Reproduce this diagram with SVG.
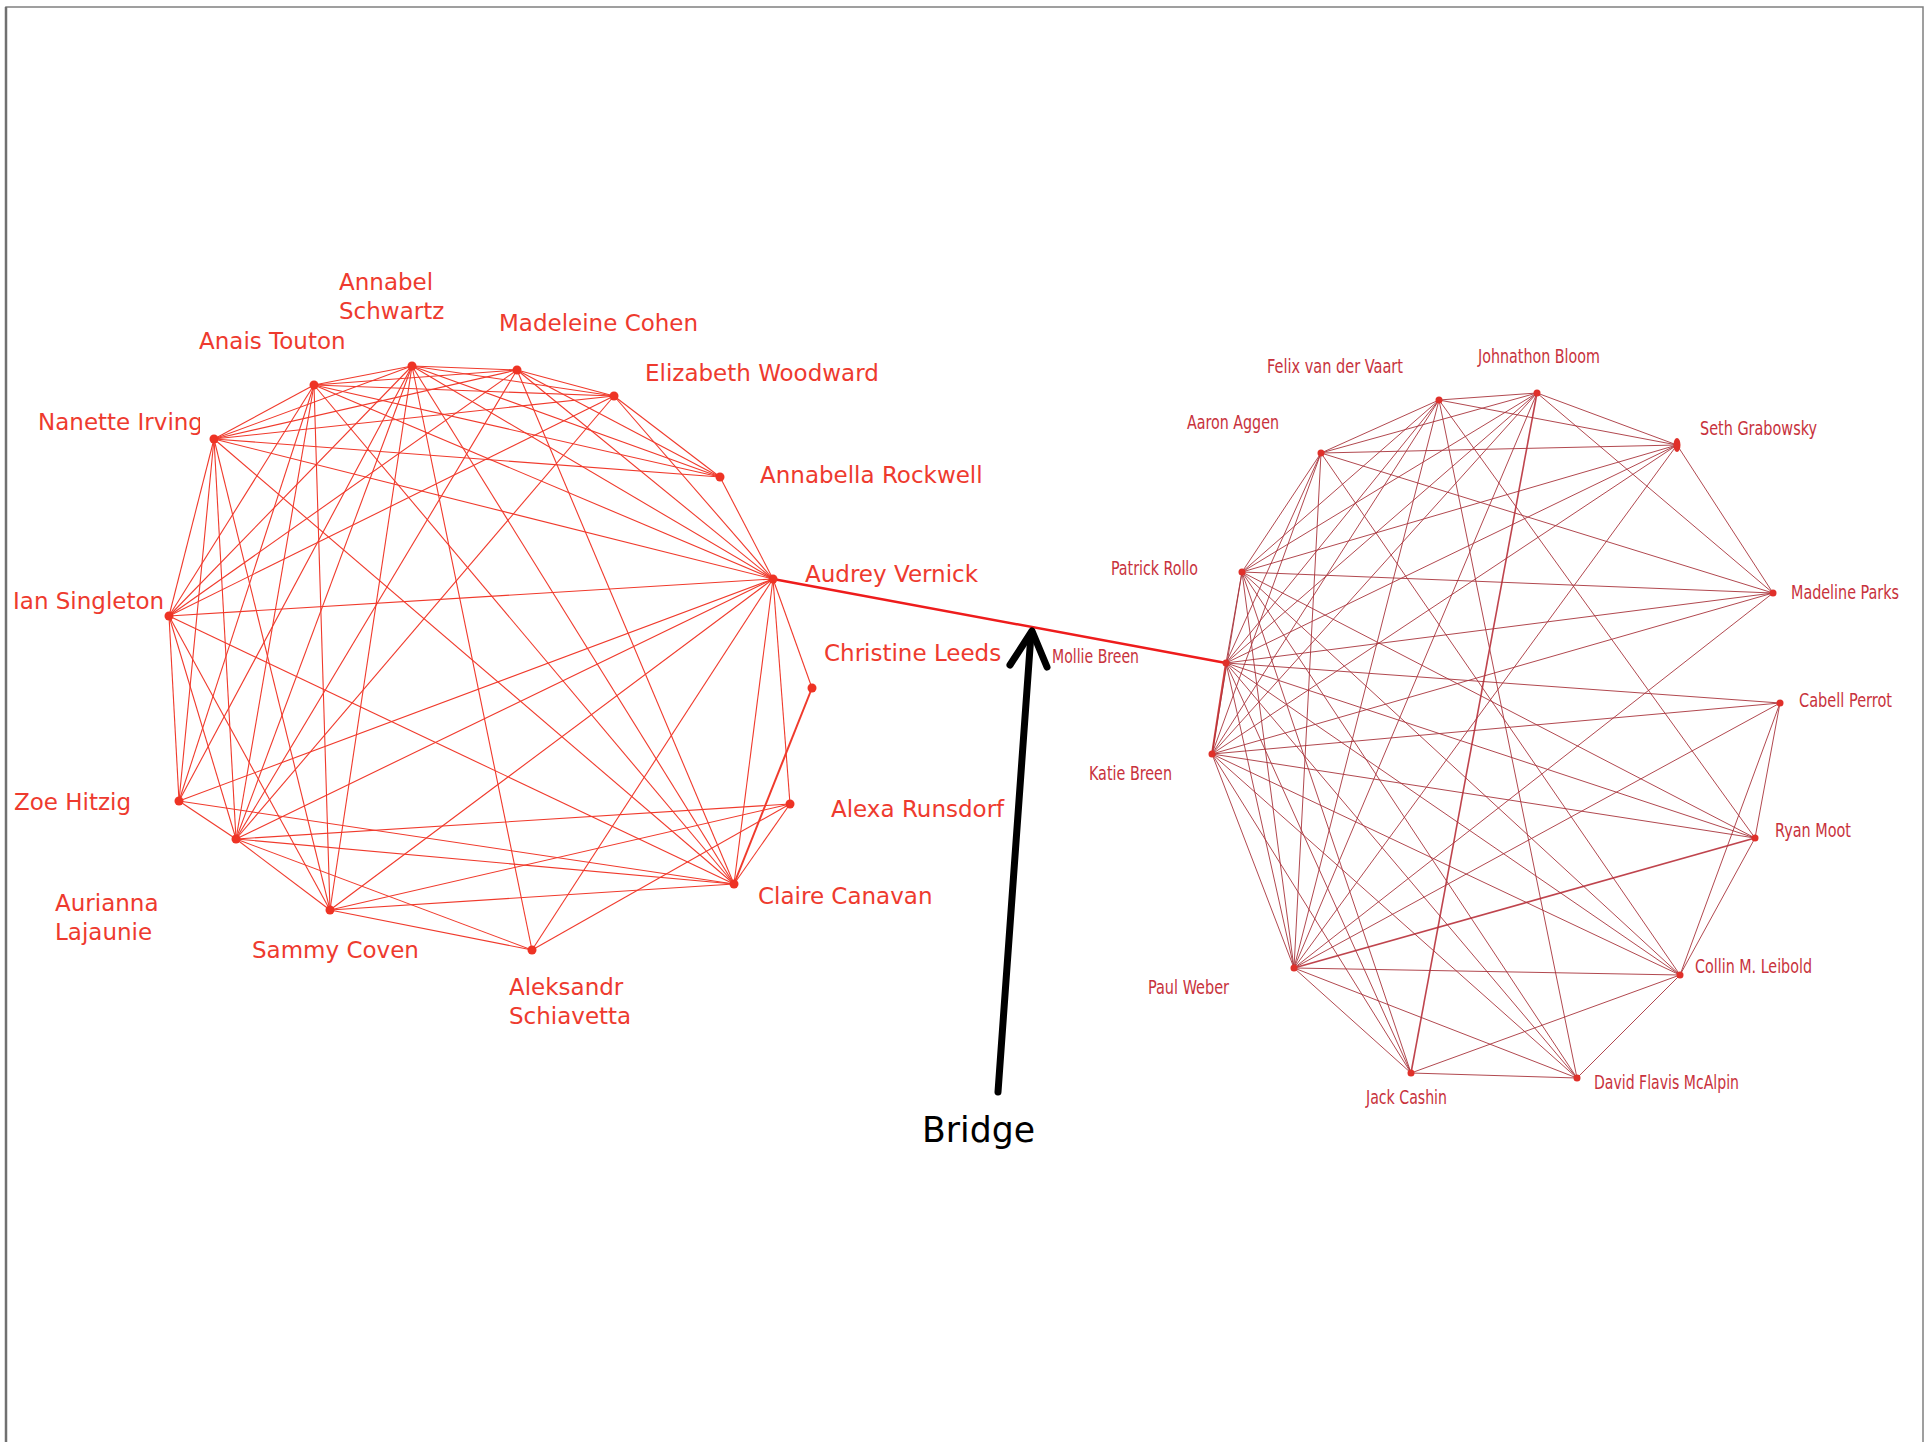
<svg xmlns="http://www.w3.org/2000/svg" width="1925" height="1442" viewBox="0 0 1925 1442">
<style>
.lt{font-family:"DejaVu Sans","Liberation Sans",sans-serif;font-size:23px;fill:#ee3a2e}
.rt{font-family:"DejaVu Sans Condensed","DejaVu Sans","Liberation Sans",sans-serif;font-size:19px;fill:#c8323c}
.le line{stroke:#f03a2c;stroke-width:1.1}
.re line{stroke:#a8343c;stroke-width:1;stroke-opacity:0.9}
.ln{fill:#ee3324}
.rn{fill:#e0302a}
</style>
<defs>
<clipPath id="clipN"><rect x="0" y="400" width="200" height="50"/></clipPath>
</defs>
<rect x="0" y="0" width="1925" height="1442" fill="#ffffff"/>
<path d="M6,1442 V7 H1923 V1442" fill="none" stroke="#808080" stroke-width="1.5"/>
<line x1="6" y1="7" x2="6" y2="1442" stroke="#707070" stroke-width="2.5"/>

<g id="connectors">
<g class="le">
<!-- N -->
<line x1="214" y1="439" x2="314" y2="385"/>
<line x1="214" y1="439" x2="412" y2="366"/>
<line x1="214" y1="439" x2="517" y2="370"/>
<line x1="214" y1="439" x2="614" y2="396"/>
<line x1="214" y1="439" x2="720" y2="477"/>
<line x1="214" y1="439" x2="773" y2="579"/>
<line x1="214" y1="439" x2="169" y2="616"/>
<line x1="214" y1="439" x2="179" y2="801"/>
<line x1="214" y1="439" x2="236" y2="839"/>
<line x1="214" y1="439" x2="330" y2="910"/>
<line x1="214" y1="439" x2="734" y2="884"/>
<!-- T -->
<line x1="314" y1="385" x2="412" y2="366"/>
<line x1="314" y1="385" x2="517" y2="370"/>
<line x1="314" y1="385" x2="614" y2="396"/>
<line x1="314" y1="385" x2="720" y2="477"/>
<line x1="314" y1="385" x2="773" y2="579"/>
<line x1="314" y1="385" x2="169" y2="616"/>
<line x1="314" y1="385" x2="179" y2="801"/>
<line x1="314" y1="385" x2="236" y2="839"/>
<line x1="314" y1="385" x2="330" y2="910"/>
<line x1="314" y1="385" x2="734" y2="884"/>
<!-- A -->
<line x1="412" y1="366" x2="517" y2="370"/>
<line x1="412" y1="366" x2="614" y2="396"/>
<line x1="412" y1="366" x2="720" y2="477"/>
<line x1="412" y1="366" x2="773" y2="579"/>
<line x1="412" y1="366" x2="169" y2="616"/>
<line x1="412" y1="366" x2="179" y2="801"/>
<line x1="412" y1="366" x2="236" y2="839"/>
<line x1="412" y1="366" x2="330" y2="910"/>
<line x1="412" y1="366" x2="532" y2="950"/>
<line x1="412" y1="366" x2="734" y2="884"/>
<!-- M -->
<line x1="517" y1="370" x2="614" y2="396"/>
<line x1="517" y1="370" x2="720" y2="477"/>
<line x1="517" y1="370" x2="773" y2="579"/>
<line x1="517" y1="370" x2="169" y2="616"/>
<line x1="517" y1="370" x2="236" y2="839"/>
<line x1="517" y1="370" x2="734" y2="884"/>
<!-- W -->
<line x1="614" y1="396" x2="720" y2="477"/>
<line x1="614" y1="396" x2="773" y2="579"/>
<line x1="614" y1="396" x2="169" y2="616"/>
<line x1="614" y1="396" x2="236" y2="839"/>
<!-- B -->
<line x1="720" y1="477" x2="773" y2="579"/>
<!-- V -->
<line x1="773" y1="579" x2="169" y2="616"/>
<line x1="773" y1="579" x2="179" y2="801"/>
<line x1="773" y1="579" x2="236" y2="839"/>
<line x1="773" y1="579" x2="330" y2="910"/>
<line x1="773" y1="579" x2="532" y2="950"/>
<line x1="773" y1="579" x2="734" y2="884"/>
<line x1="773" y1="579" x2="790" y2="804"/>
<line x1="773" y1="579" x2="812" y2="688"/>
<!-- CL -->
<line x1="812" y1="688" x2="734" y2="884" style="stroke-width:2"/>
<!-- R -->
<line x1="790" y1="804" x2="734" y2="884"/>
<line x1="790" y1="804" x2="532" y2="950"/>
<line x1="790" y1="804" x2="236" y2="839"/>
<line x1="790" y1="804" x2="330" y2="910"/>
<!-- I -->
<line x1="169" y1="616" x2="179" y2="801"/>
<line x1="169" y1="616" x2="236" y2="839"/>
<line x1="169" y1="616" x2="330" y2="910"/>
<line x1="169" y1="616" x2="734" y2="884"/>
<!-- Z -->
<line x1="179" y1="801" x2="236" y2="839"/>
<line x1="179" y1="801" x2="734" y2="884"/>
<!-- L -->
<line x1="236" y1="839" x2="330" y2="910"/>
<line x1="236" y1="839" x2="734" y2="884"/>
<line x1="236" y1="839" x2="532" y2="950"/>
<!-- S -->
<line x1="330" y1="910" x2="532" y2="950"/>
<line x1="330" y1="910" x2="734" y2="884"/>
</g>

<g class="re">
<!-- AA -->
<line x1="1321" y1="453" x2="1439" y2="400"/>
<line x1="1321" y1="453" x2="1537" y2="393"/>
<line x1="1321" y1="453" x2="1677" y2="445"/>
<line x1="1321" y1="453" x2="1773" y2="593"/>
<line x1="1321" y1="453" x2="1242" y2="572"/>
<line x1="1321" y1="453" x2="1226" y2="663"/>
<line x1="1321" y1="453" x2="1212" y2="754"/>
<line x1="1321" y1="453" x2="1294" y2="968"/>
<line x1="1321" y1="453" x2="1680" y2="975"/>
<!-- FV -->
<line x1="1439" y1="400" x2="1537" y2="393"/>
<line x1="1439" y1="400" x2="1677" y2="445"/>
<line x1="1439" y1="400" x2="1242" y2="572"/>
<line x1="1439" y1="400" x2="1226" y2="663"/>
<line x1="1439" y1="400" x2="1212" y2="754"/>
<line x1="1439" y1="400" x2="1294" y2="968"/>
<line x1="1439" y1="400" x2="1577" y2="1078"/>
<line x1="1439" y1="400" x2="1755" y2="838"/>
<!-- JB -->
<line x1="1537" y1="393" x2="1677" y2="445"/>
<line x1="1537" y1="393" x2="1773" y2="593"/>
<line x1="1537" y1="393" x2="1242" y2="572"/>
<line x1="1537" y1="393" x2="1226" y2="663"/>
<line x1="1537" y1="393" x2="1212" y2="754"/>
<line x1="1537" y1="393" x2="1294" y2="968"/>
<line x1="1537" y1="393" x2="1411" y2="1073" style="stroke-width:1.6;stroke:#b8303a"/>
<!-- SG -->
<line x1="1677" y1="445" x2="1773" y2="593"/>
<line x1="1677" y1="445" x2="1242" y2="572"/>
<line x1="1677" y1="445" x2="1226" y2="663"/>
<line x1="1677" y1="445" x2="1212" y2="754"/>
<line x1="1677" y1="445" x2="1294" y2="968"/>
<!-- MP -->
<line x1="1773" y1="593" x2="1242" y2="572"/>
<line x1="1773" y1="593" x2="1226" y2="663"/>
<line x1="1773" y1="593" x2="1212" y2="754"/>
<line x1="1773" y1="593" x2="1294" y2="968"/>
<!-- CP -->
<line x1="1780" y1="703" x2="1226" y2="663"/>
<line x1="1780" y1="703" x2="1212" y2="754"/>
<line x1="1780" y1="703" x2="1294" y2="968"/>
<line x1="1780" y1="703" x2="1755" y2="838"/>
<line x1="1780" y1="703" x2="1680" y2="975"/>
<!-- RM -->
<line x1="1755" y1="838" x2="1242" y2="572"/>
<line x1="1755" y1="838" x2="1226" y2="663"/>
<line x1="1755" y1="838" x2="1212" y2="754"/>
<line x1="1755" y1="838" x2="1294" y2="968" style="stroke-width:1.8;stroke:#b8303a"/>
<line x1="1755" y1="838" x2="1680" y2="975"/>
<!-- CML -->
<line x1="1680" y1="975" x2="1242" y2="572"/>
<line x1="1680" y1="975" x2="1226" y2="663"/>
<line x1="1680" y1="975" x2="1212" y2="754"/>
<line x1="1680" y1="975" x2="1294" y2="968"/>
<line x1="1680" y1="975" x2="1411" y2="1073"/>
<line x1="1680" y1="975" x2="1577" y2="1078"/>
<!-- DF -->
<line x1="1577" y1="1078" x2="1242" y2="572"/>
<line x1="1577" y1="1078" x2="1226" y2="663"/>
<line x1="1577" y1="1078" x2="1212" y2="754"/>
<line x1="1577" y1="1078" x2="1294" y2="968"/>
<line x1="1577" y1="1078" x2="1411" y2="1073"/>
<!-- JC -->
<line x1="1411" y1="1073" x2="1242" y2="572"/>
<line x1="1411" y1="1073" x2="1226" y2="663"/>
<line x1="1411" y1="1073" x2="1212" y2="754"/>
<line x1="1411" y1="1073" x2="1294" y2="968"/>
<!-- PW / KB / MB / PR -->
<line x1="1294" y1="968" x2="1212" y2="754"/>
<line x1="1294" y1="968" x2="1226" y2="663"/>
<line x1="1294" y1="968" x2="1242" y2="572"/>
<line x1="1212" y1="754" x2="1226" y2="663" style="stroke-width:2;stroke:#d02a2a"/>
<line x1="1212" y1="754" x2="1242" y2="572"/>
<line x1="1226" y1="663" x2="1242" y2="572"/>
</g>

<line id="bridge-edge" x1="773" y1="579" x2="1226" y2="663" stroke="#ee1c1c" stroke-width="2.5"/>
<g id="bridge-arrow" fill="none" stroke="#000000" stroke-width="7" stroke-linecap="round" stroke-linejoin="round">
<line x1="998" y1="1092" x2="1031" y2="634"/>
<polyline points="1010,665 1032,631 1047,667"/>
</g>
</g>

<g id="left-nodes">
<g id="n-annabel"><circle class="ln" cx="412" cy="366" r="4.5"/><text class="lt" x="339" y="290">Annabel</text><text class="lt" x="339" y="319">Schwartz</text></g>
<g id="n-anais"><circle class="ln" cx="314" cy="385" r="4.5"/><text class="lt" x="199" y="349">Anais Touton</text></g>
<g id="n-madeleine"><circle class="ln" cx="517" cy="370" r="4.5"/><text class="lt" x="499" y="331">Madeleine Cohen</text></g>
<g id="n-elizabeth"><circle class="ln" cx="614" cy="396" r="4.5"/><text class="lt" x="645" y="381">Elizabeth Woodward</text></g>
<g id="n-nanette"><circle class="ln" cx="214" cy="439" r="4.5"/><text class="lt" x="38" y="430" clip-path="url(#clipN)">Nanette Irving</text></g>
<g id="n-annabella"><circle class="ln" cx="720" cy="477" r="4.5"/><text class="lt" x="760" y="483">Annabella Rockwell</text></g>
<g id="n-audrey"><circle class="ln" cx="773" cy="579" r="4.5"/><text class="lt" x="805" y="582">Audrey Vernick</text></g>
<g id="n-ian"><circle class="ln" cx="169" cy="616" r="4.5"/><text class="lt" x="13" y="609">Ian Singleton</text></g>
<g id="n-christine"><circle class="ln" cx="812" cy="688" r="4.5"/><text class="lt" x="824" y="661">Christine Leeds</text></g>
<g id="n-zoe"><circle class="ln" cx="179" cy="801" r="4.5"/><text class="lt" x="14" y="810">Zoe Hitzig</text></g>
<g id="n-alexa"><circle class="ln" cx="790" cy="804" r="4.5"/><text class="lt" x="831" y="817">Alexa Runsdorf</text></g>
<g id="n-aurianna"><circle class="ln" cx="236" cy="839" r="4.5"/><text class="lt" x="55" y="911">Aurianna</text><text class="lt" x="55" y="940">Lajaunie</text></g>
<g id="n-claire"><circle class="ln" cx="734" cy="884" r="4.5"/><text class="lt" x="758" y="904">Claire Canavan</text></g>
<g id="n-sammy"><circle class="ln" cx="330" cy="910" r="4.5"/><text class="lt" x="252" y="958">Sammy Coven</text></g>
<g id="n-aleksandr"><circle class="ln" cx="532" cy="950" r="4.5"/><text class="lt" x="509" y="995">Aleksandr</text><text class="lt" x="509" y="1024">Schiavetta</text></g>
</g>

<g id="right-nodes">
<g id="n-felix"><circle class="rn" cx="1439" cy="400" r="3.5"/><text class="rt" x="1267" y="373" textLength="136" lengthAdjust="spacingAndGlyphs">Felix van der Vaart</text></g>
<g id="n-johnathon"><circle class="rn" cx="1537" cy="393" r="3.5"/><text class="rt" x="1478" y="363" textLength="122" lengthAdjust="spacingAndGlyphs">Johnathon Bloom</text></g>
<g id="n-aaron"><circle class="rn" cx="1321" cy="453" r="3.5"/><text class="rt" x="1187" y="429" textLength="92" lengthAdjust="spacingAndGlyphs">Aaron Aggen</text></g>
<g id="n-seth"><ellipse class="rn" cx="1677" cy="445" rx="3.5" ry="7"/><text class="rt" x="1700" y="435" textLength="117" lengthAdjust="spacingAndGlyphs">Seth Grabowsky</text></g>
<g id="n-patrick"><circle class="rn" cx="1242" cy="572" r="3.5"/><text class="rt" x="1111" y="575" textLength="87" lengthAdjust="spacingAndGlyphs">Patrick Rollo</text></g>
<g id="n-madeline"><circle class="rn" cx="1773" cy="593" r="3.5"/><text class="rt" x="1791" y="599" textLength="108" lengthAdjust="spacingAndGlyphs">Madeline Parks</text></g>
<g id="n-mollie"><circle class="rn" cx="1226" cy="663" r="3.5"/><text class="rt" x="1052" y="663" textLength="87" lengthAdjust="spacingAndGlyphs">Mollie Breen</text></g>
<g id="n-cabell"><circle class="rn" cx="1780" cy="703" r="3.5"/><text class="rt" x="1799" y="707" textLength="93" lengthAdjust="spacingAndGlyphs">Cabell Perrot</text></g>
<g id="n-katie"><circle class="rn" cx="1212" cy="754" r="3.5"/><text class="rt" x="1089" y="780" textLength="83" lengthAdjust="spacingAndGlyphs">Katie Breen</text></g>
<g id="n-ryan"><circle class="rn" cx="1755" cy="838" r="3.5"/><text class="rt" x="1775" y="837" textLength="76" lengthAdjust="spacingAndGlyphs">Ryan Moot</text></g>
<g id="n-paul"><circle class="rn" cx="1294" cy="968" r="3.5"/><text class="rt" x="1148" y="994" textLength="81" lengthAdjust="spacingAndGlyphs">Paul Weber</text></g>
<g id="n-collin"><circle class="rn" cx="1680" cy="975" r="3.5"/><text class="rt" x="1695" y="973" textLength="117" lengthAdjust="spacingAndGlyphs">Collin M. Leibold</text></g>
<g id="n-jack"><circle class="rn" cx="1411" cy="1073" r="3.5"/><text class="rt" x="1366" y="1104" textLength="81" lengthAdjust="spacingAndGlyphs">Jack Cashin</text></g>
<g id="n-david"><circle class="rn" cx="1577" cy="1078" r="3.5"/><text class="rt" x="1594" y="1089" textLength="145" lengthAdjust="spacingAndGlyphs">David Flavis McAlpin</text></g>
</g>

<text id="bridge-label" x="922" y="1142" font-family="DejaVu Sans, Liberation Sans, sans-serif" font-size="35" fill="#000000" textLength="113" lengthAdjust="spacingAndGlyphs">Bridge</text>
</svg>
